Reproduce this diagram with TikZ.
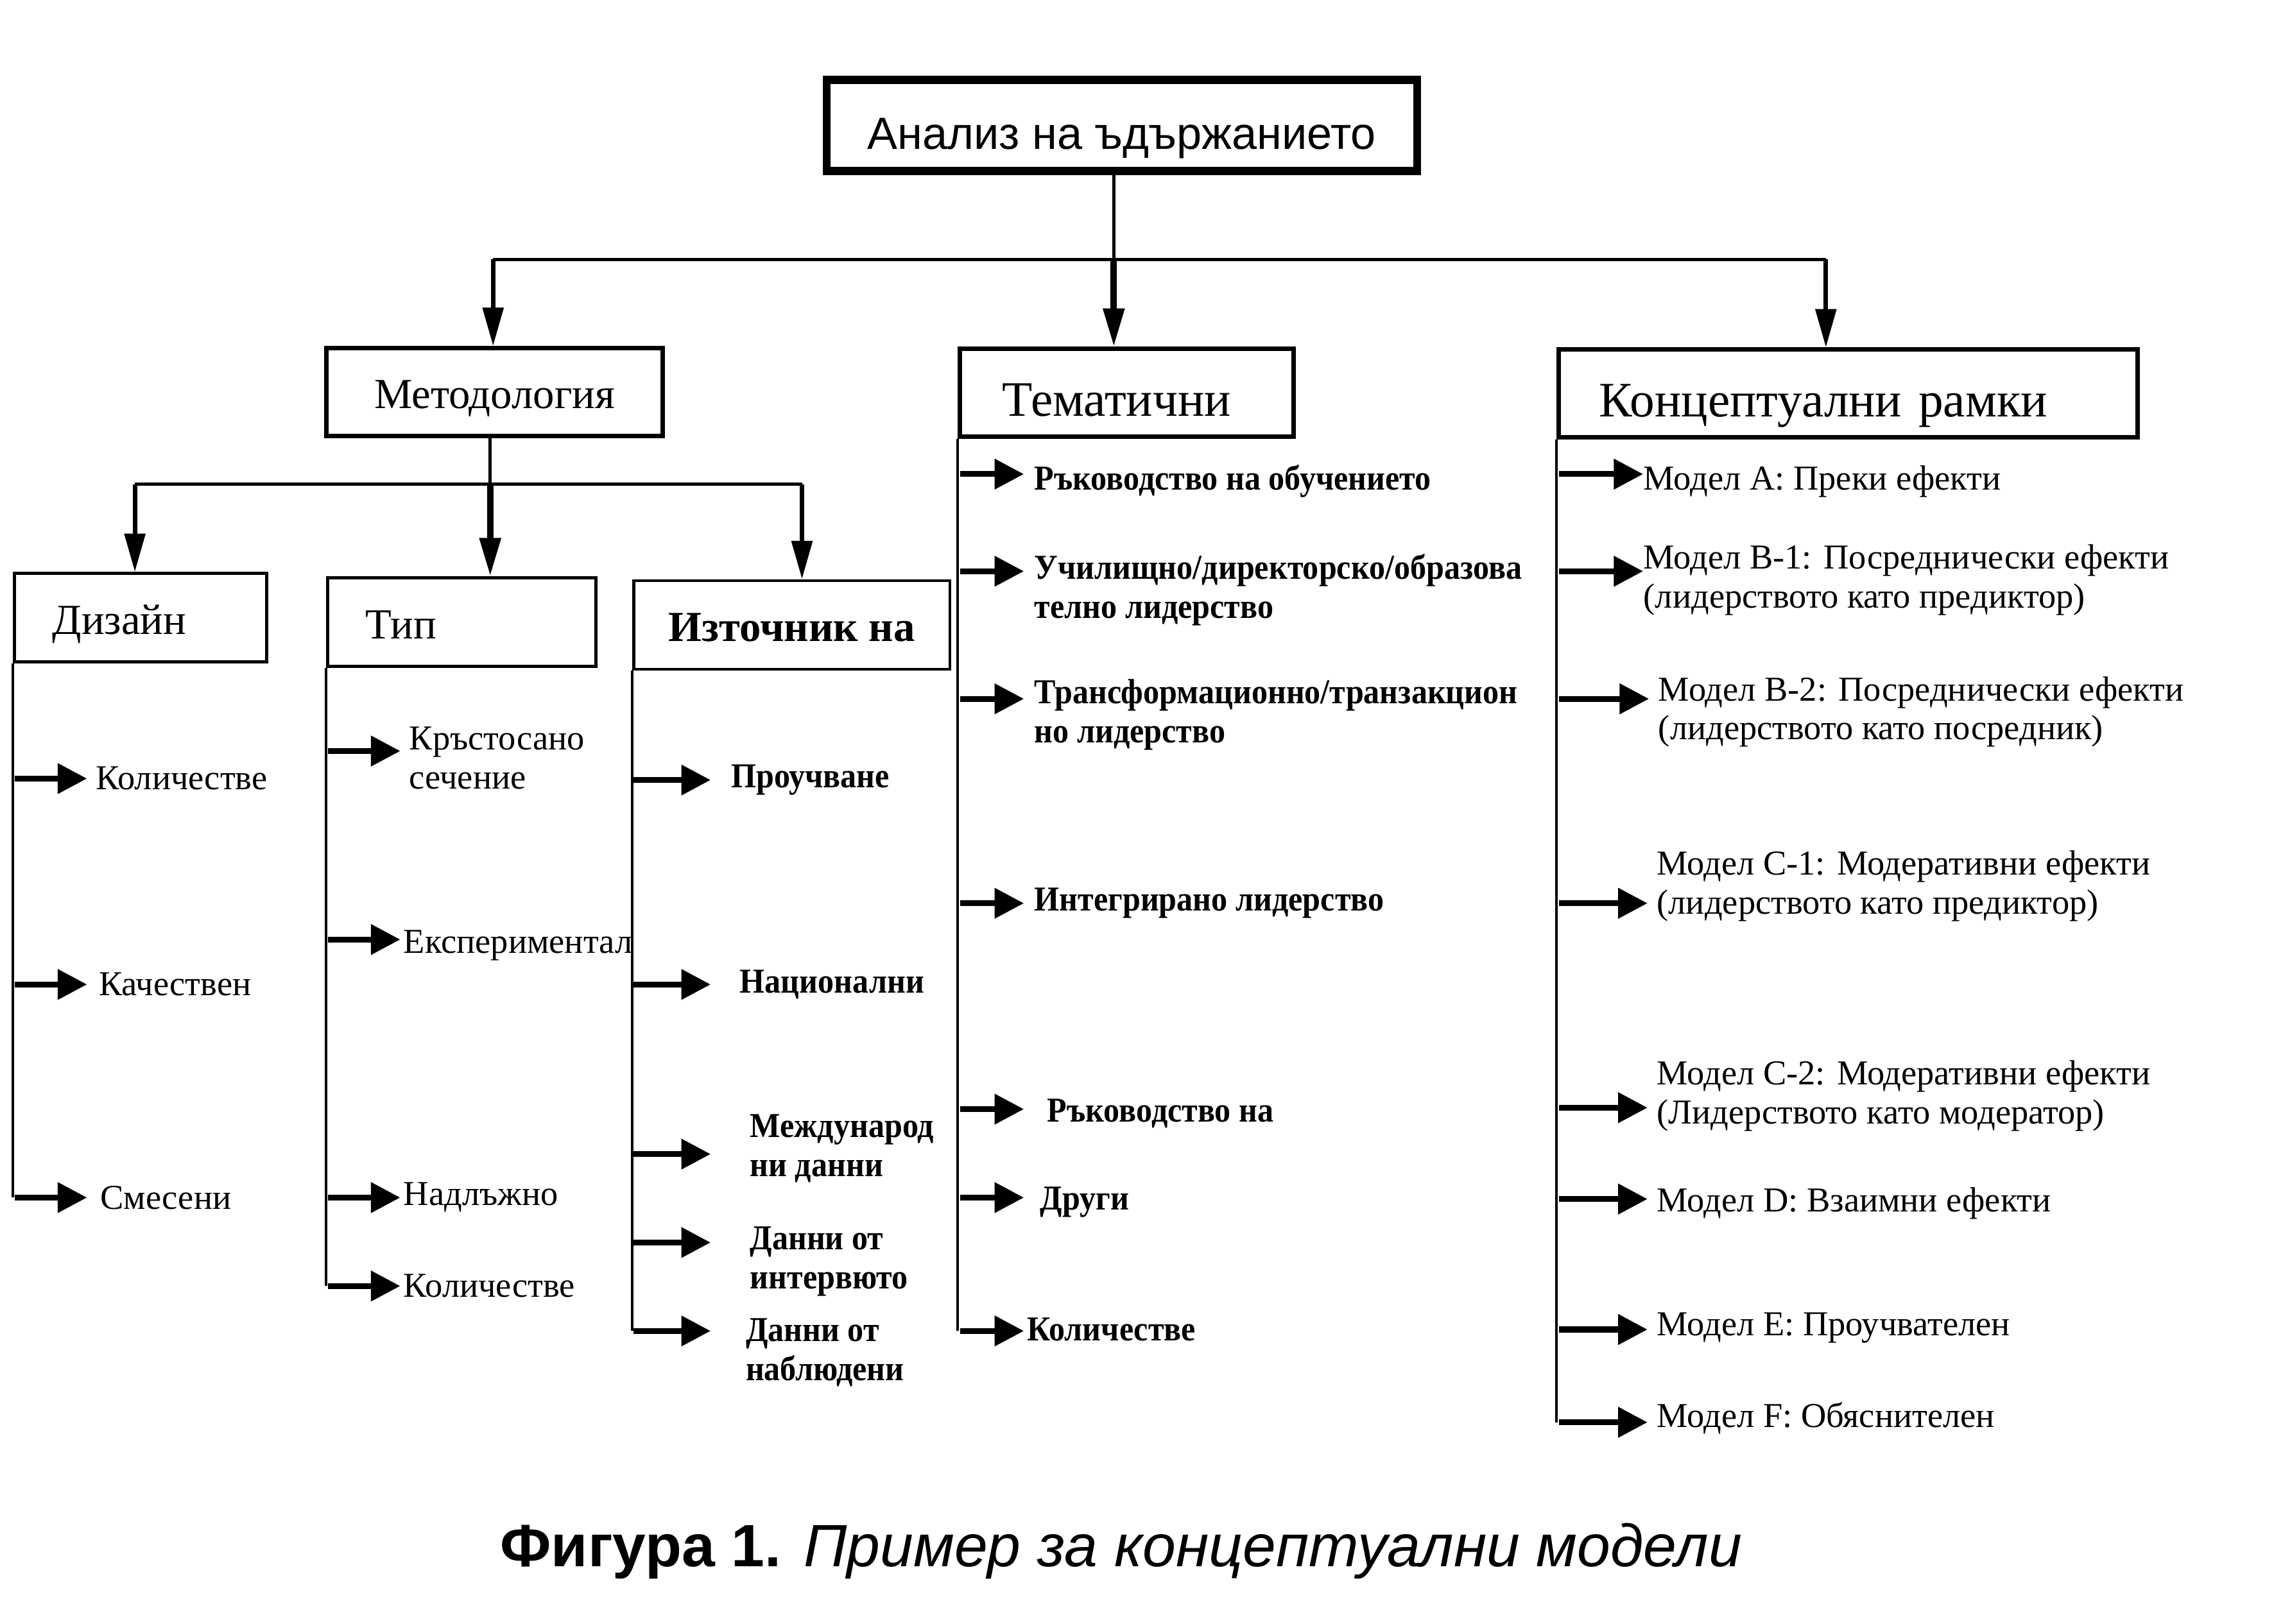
\documentclass[tikz,border=0pt]{standalone}
\usepackage{fontspec}
\setmainfont{Liberation Serif}
\newfontfamily\capsans{Liberation Sans}
\newfontfamily\itembold[FakeStretch=0.92]{Liberation Serif}
\usetikzlibrary{arrows.meta}

\begin{document}
\begin{tikzpicture}[x=0.022596cm, y=-0.022596cm,
  topbox/.style={draw, line width=3.5pt, minimum width=9.20cm, minimum height=1.42cm, inner ysep=0pt, text height=24pt, text depth=3pt, font=\capsans\fontsize{20}{24}\selectfont},
  mainbox/.style={draw, line width=2pt, minimum height=1.37cm, inner ysep=0pt, text height=24.4pt, text depth=4pt, font=\fontsize{22}{26}\selectfont},
  subbox/.style={draw, line width=1.3pt, minimum height=1.38cm, inner ysep=0pt, text height=18.6pt, text depth=4pt, font=\fontsize{19}{23}\selectfont},
  item/.style={anchor=west, inner ysep=0pt, align=left, font=\fontsize{15.5}{17.3}\selectfont},
  bitem/.style={item, font=\itembold\fontsize{15.5}{17.3}\selectfont\bfseries},
  spine/.style={line width=1.1pt},
  bus/.style={line width=1.3pt},
  harrow/.style={-{Triangle[length=13pt, width=13pt]}, line width=2.6pt},
  varrow/.style={-{Triangle[length=17pt, width=9pt]}, line width=2pt}
]
\useasboundingbox (0,0) rectangle (1568,1120);

\node[topbox] (top) at (773.5,86.5) {Анализ на ъдържанието};

\node[mainbox, minimum width=5.24cm, text height=18.6pt, font=\fontsize{19}{23}\selectfont] (metod) at (341,270.5) {Методология};
\node[mainbox, text width=3.88cm, inner xsep=0.66cm, align=left] (tema) at (777,271) {Тематични};
\node[mainbox, text width=7.76cm, inner xsep=0.63cm, align=left] (konc) at (1274.5,271.5) {Концептуални рамки};

\node[subbox, text width=2.75cm, inner xsep=0.59cm, align=left] (diz) at (97,426) {Дизайн};
\node[subbox, text width=3.00cm, inner xsep=0.59cm, align=left] (tip) at (318.5,429) {Тип};
\node[subbox, minimum width=4.93cm, font=\fontsize{19}{23}\selectfont\bfseries] (izt) at (546,431) {Източник на};

% first split
\coordinate (b1) at (340,179);
\coordinate (b2) at (768,179);
\coordinate (b3) at (1259,179);
\draw[bus] (top.south -| b2) -- (b2);
\draw[bus] (b1) -- (b3);
\draw[varrow] (b1) -- (b1 |- metod.north);
\draw[varrow, line width=2.8pt] (b2) -- (b2 |- tema.north);
\draw[varrow] (b3) -- (b3 |- konc.north);

% methodology split
\coordinate (m1) at (93,334);
\coordinate (m2) at (338,334);
\coordinate (m3) at (553,334);
\draw[bus] (metod.south -| m2) -- (m2);
\draw[bus] (m1) -- (m3);
\draw[varrow] (m1) -- (m1 |- diz.north);
\draw[varrow, line width=2.8pt] (m2) -- (m2 |- tip.north);
\draw[varrow] (m3) -- (m3 |- izt.north);

% Дизайн
\coordinate (d1) at (10,537);
\coordinate (d2) at (10,679);
\coordinate (d3) at (10,826);
\node[item, inner xsep=3.8pt] (d1t) at (60,537) {Количестве};
\node[item, inner xsep=5.1pt] (d2t) at (60,679) {Качествен};
\node[item, inner xsep=5.8pt] (d3t) at (60,826) {Смесени};
\draw[spine] (diz.south west) -- (diz.south west |- d3);
\draw[harrow] (d1) -- (d1 -| d1t.west);
\draw[harrow] (d2) -- (d2 -| d2t.west);
\draw[harrow] (d3) -- (d3 -| d3t.west);

% Тип
\coordinate (p1) at (226,518);
\coordinate (p2) at (226,648);
\coordinate (p3) at (226,826);
\coordinate (p4) at (226,887);
\node[item, inner xsep=3.8pt] (p1t) at (276,523) {Кръстосано\\сечение};
\node[item, inner xsep=1.3pt] (p2t) at (276,652) {Експериментал};
\node[item, inner xsep=1.3pt] (p3t) at (276,826) {Надлъжно};
\node[item, inner xsep=1.3pt] (p4t) at (276,887) {Количестве};
\draw[spine] (tip.south west) -- (tip.south west |- p4);
\draw[harrow] (p1) -- (p1 -| p1t.west);
\draw[harrow] (p2) -- (p2 -| p2t.west);
\draw[harrow] (p3) -- (p3 -| p3t.west);
\draw[harrow] (p4) -- (p4 -| p4t.west);

% Източник на
\coordinate (s1) at (437,538);
\coordinate (s2) at (437,679);
\coordinate (s3) at (437,796);
\coordinate (s4) at (437,857);
\coordinate (s5) at (437,918);
\node[bitem, inner xsep=9pt] (s1t) at (490,538) {Проучване};
\node[bitem, inner xsep=12.8pt] (s2t) at (490,679) {Национални};
\node[bitem, inner xsep=17.3pt] (s3t) at (490,792) {Международ\\ни данни};
\node[bitem, inner xsep=17.3pt] (s4t) at (490,870) {Данни от\\интервюто};
\node[bitem, inner xsep=15.4pt] (s5t) at (490,933) {Данни от\\наблюдени};
\draw[spine] (izt.south west) -- (izt.south west |- s5);
\draw[harrow] (s1) -- (s1 -| s1t.west);
\draw[harrow] (s2) -- (s2 -| s2t.west);
\draw[harrow] (s3) -- (s3 -| s3t.west);
\draw[harrow] (s4) -- (s4 -| s4t.west);
\draw[harrow] (s5) -- (s5 -| s5t.west);

% Тематични
\coordinate (t1) at (662,327);
\coordinate (t2) at (662,394);
\coordinate (t3) at (662,482);
\coordinate (t4) at (662,623);
\coordinate (t5) at (662,765);
\coordinate (t6) at (662,826);
\coordinate (t7) at (662,918);
\node[bitem, inner xsep=4.5pt] (t1t) at (706,332) {Ръководство на обучението};
\node[bitem, inner xsep=4.5pt] (t2t) at (706,407) {Училищно/директорско/образова\\телно лидерство};
\node[bitem, inner xsep=4.5pt] (t3t) at (706,493) {Трансформационно/транзакцион\\но лидерство};
\node[bitem, inner xsep=4.5pt] (t4t) at (706,623) {Интегрирано лидерство};
\node[bitem, inner xsep=10.2pt] (t5t) at (706,768) {Ръководство на};
\node[bitem, inner xsep=7pt] (t6t) at (706,829) {Други};
\node[bitem, inner xsep=1.3pt] (t7t) at (706,917) {Количестве};
\draw[spine] (tema.south west) -- (tema.south west |- t7);
\draw[harrow] (t1) -- (t1 -| t1t.west);
\draw[harrow] (t2) -- (t2 -| t2t.west);
\draw[harrow] (t3) -- (t3 -| t3t.west);
\draw[harrow] (t4) -- (t4 -| t4t.west);
\draw[harrow] (t5) -- (t5 -| t5t.west);
\draw[harrow] (t6) -- (t6 -| t6t.west);
\draw[harrow] (t7) -- (t7 -| t7t.west);

% Концептуални рамки
\coordinate (c1) at (1075,327);
\coordinate (c2) at (1075,394);
\coordinate (c3) at (1075,482);
\coordinate (c4) at (1075,623);
\coordinate (c5) at (1075,764);
\coordinate (c6) at (1075,827);
\coordinate (c7) at (1075,917);
\coordinate (c8) at (1075,981);
\node[item, inner xsep=0pt] (c1t) at (1133,332) {Модел A: Преки ефекти};
\node[item, inner xsep=0pt] (c2t) at (1133,400) {Модел B-1: Посреднически ефекти\\(лидерството като предиктор)};
\node[item, inner xsep=4pt] (c3t) at (1137,491) {Модел B-2: Посреднически ефекти\\(лидерството като посредник)};
\node[item, inner xsep=4pt] (c4t) at (1136,611) {Модел C-1: Модеративни ефекти\\(лидерството като предиктор)};
\node[item, inner xsep=4pt] (c5t) at (1136,756) {Модел C-2: Модеративни ефекти\\(Лидерството като модератор)};
\node[item, inner xsep=4pt] (c6t) at (1136,830) {Модел D: Взаимни ефекти};
\node[item, inner xsep=4pt] (c7t) at (1136,916) {Модел E: Проучвателен};
\node[item, inner xsep=4pt] (c8t) at (1136,978) {Модел F: Обяснителен};
\draw[spine] (konc.south west) -- (konc.south west |- c8);
\draw[harrow] (c1) -- (c1 -| c1t.west);
\draw[harrow] (c2) -- (c2 -| c2t.west);
\draw[harrow] (c3) -- (c3 -| c3t.west);
\draw[harrow] (c4) -- (c4 -| c4t.west);
\draw[harrow] (c5) -- (c5 -| c5t.west);
\draw[harrow] (c6) -- (c6 -| c6t.west);
\draw[harrow] (c7) -- (c7 -| c7t.west);
\draw[harrow] (c8) -- (c8 -| c8t.west);

\node[font=\capsans\fontsize{26.5}{30}\selectfont] (caption) at (773,1070) {\textbf{Фигура 1.} \textit{Пример за концептуални модели}};
\end{tikzpicture}
\end{document}
